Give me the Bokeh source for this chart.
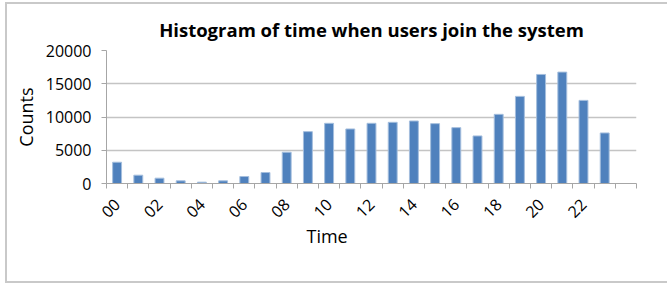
import math
from bokeh.plotting import figure
from bokeh.models import Range1d, FixedTicker, ColumnDataSource, Title, InlineStyleSheet
from bokeh.embed import file_html
from bokeh.resources import INLINE

# ---- data ----
hours = ["00", "01", "02", "03", "04", "05", "06", "07", "08", "09", "10", "11",
         "12", "13", "14", "15", "16", "17", "18", "19", "20", "21", "22", "23"]
counts = [3200, 1250, 800, 400, 200, 400, 1050, 1650, 4700, 7800, 9050, 8200,
          9050, 9200, 9400, 9000, 8400, 7150, 10400, 13100, 16400, 16750, 12500, 7600]
y_ticks = [0, 5000, 10000, 15000, 20000]
tick_labels = ["00", "02", "04", "06", "08", "10", "12", "14", "16", "18", "20", "22"]
n_slots = 25  # the source axis holds one extra empty slot after 23

FONT = "Open Sans"
TXT = "#000000"

x_pos = [i + 0.5 for i in range(len(hours))]
src = ColumnDataSource(dict(x=x_pos, top=counts, hour=hours))

frame_css = InlineStyleSheet(css="""
:host { position: relative; }
:host::after {
  content: ""; position: absolute; left: 5px; top: 2px; bottom: 1px; right: -20px;
  border: 2px solid #c9c9c9; pointer-events: none;
}
""")

p = figure(width=667, height=284, output_backend="svg", toolbar_location=None,
           x_range=Range1d(0, n_slots), y_range=Range1d(0, y_ticks[-1]),
           min_border_left=106, min_border_right=31, min_border_top=50,
           min_border_bottom=101, stylesheets=[frame_css])

p.title.text = "Histogram of time when users join the system"
p.title.align = "center"
p.title.text_font = FONT
p.title.text_font_size = "18.5px"
p.title.text_font_style = "bold"
p.title.text_color = TXT
p.title.standoff = 17
p.title.offset = 5
p.outline_line_color = None
p.background_fill_color = "white"
p.border_fill_color = "white"

p.vbar(x="x", top="top", width=0.42, source=src,
       fill_color="#4F81BD", line_color="#A4BEDD", line_width=1)

# y axis
p.yaxis.ticker = FixedTicker(ticks=y_ticks)
p.yaxis.axis_label = "Counts"
p.yaxis.axis_label_text_font = FONT
p.yaxis.axis_label_text_font_size = "18px"
p.yaxis.axis_label_text_font_style = "normal"
p.yaxis.axis_label_text_color = TXT
p.yaxis.axis_label_standoff = 5
p.yaxis.major_label_text_font = FONT
p.yaxis.major_label_text_font_size = "16px"
p.yaxis.major_label_text_color = TXT
p.yaxis.major_label_standoff = 10
p.yaxis.major_tick_out = 5
p.yaxis.major_tick_in = 0
p.yaxis.minor_tick_line_color = None
p.yaxis.axis_line_color = "#a6a6a6"
p.yaxis.major_tick_line_color = "#a6a6a6"

p.ygrid.ticker = FixedTicker(ticks=y_ticks)
p.ygrid.grid_line_color = "#c4c4c4"
p.ygrid.grid_line_width = 1.5
p.xgrid.visible = False

# x axis: labels at every other category centre, tick marks at category boundaries
label_pos = [hours.index(t) + 0.5 for t in tick_labels]
p.xaxis.ticker = FixedTicker(ticks=label_pos, minor_ticks=list(range(n_slots + 1)))
p.xaxis.major_label_overrides = {pos: t for pos, t in zip(label_pos, tick_labels)}
p.xaxis.major_label_orientation = math.pi / 4
p.xaxis.major_label_text_font = FONT
p.xaxis.major_label_text_font_size = "16px"
p.xaxis.major_label_text_color = TXT
p.xaxis.major_label_standoff = 13
p.xaxis.major_tick_out = 0
p.xaxis.major_tick_in = 0
p.xaxis.minor_tick_out = 5
p.xaxis.minor_tick_in = 0
p.xaxis.axis_line_color = "#a6a6a6"
p.xaxis.minor_tick_line_color = "#a6a6a6"
p.xaxis.major_tick_line_color = None

p.add_layout(Title(text="Time", align="left", offset=200, standoff=-8,
                   text_font=FONT, text_font_size="18px", text_font_style="normal",
                   text_color=TXT), "below")

open("out.html", "w").write(file_html(p, INLINE))
